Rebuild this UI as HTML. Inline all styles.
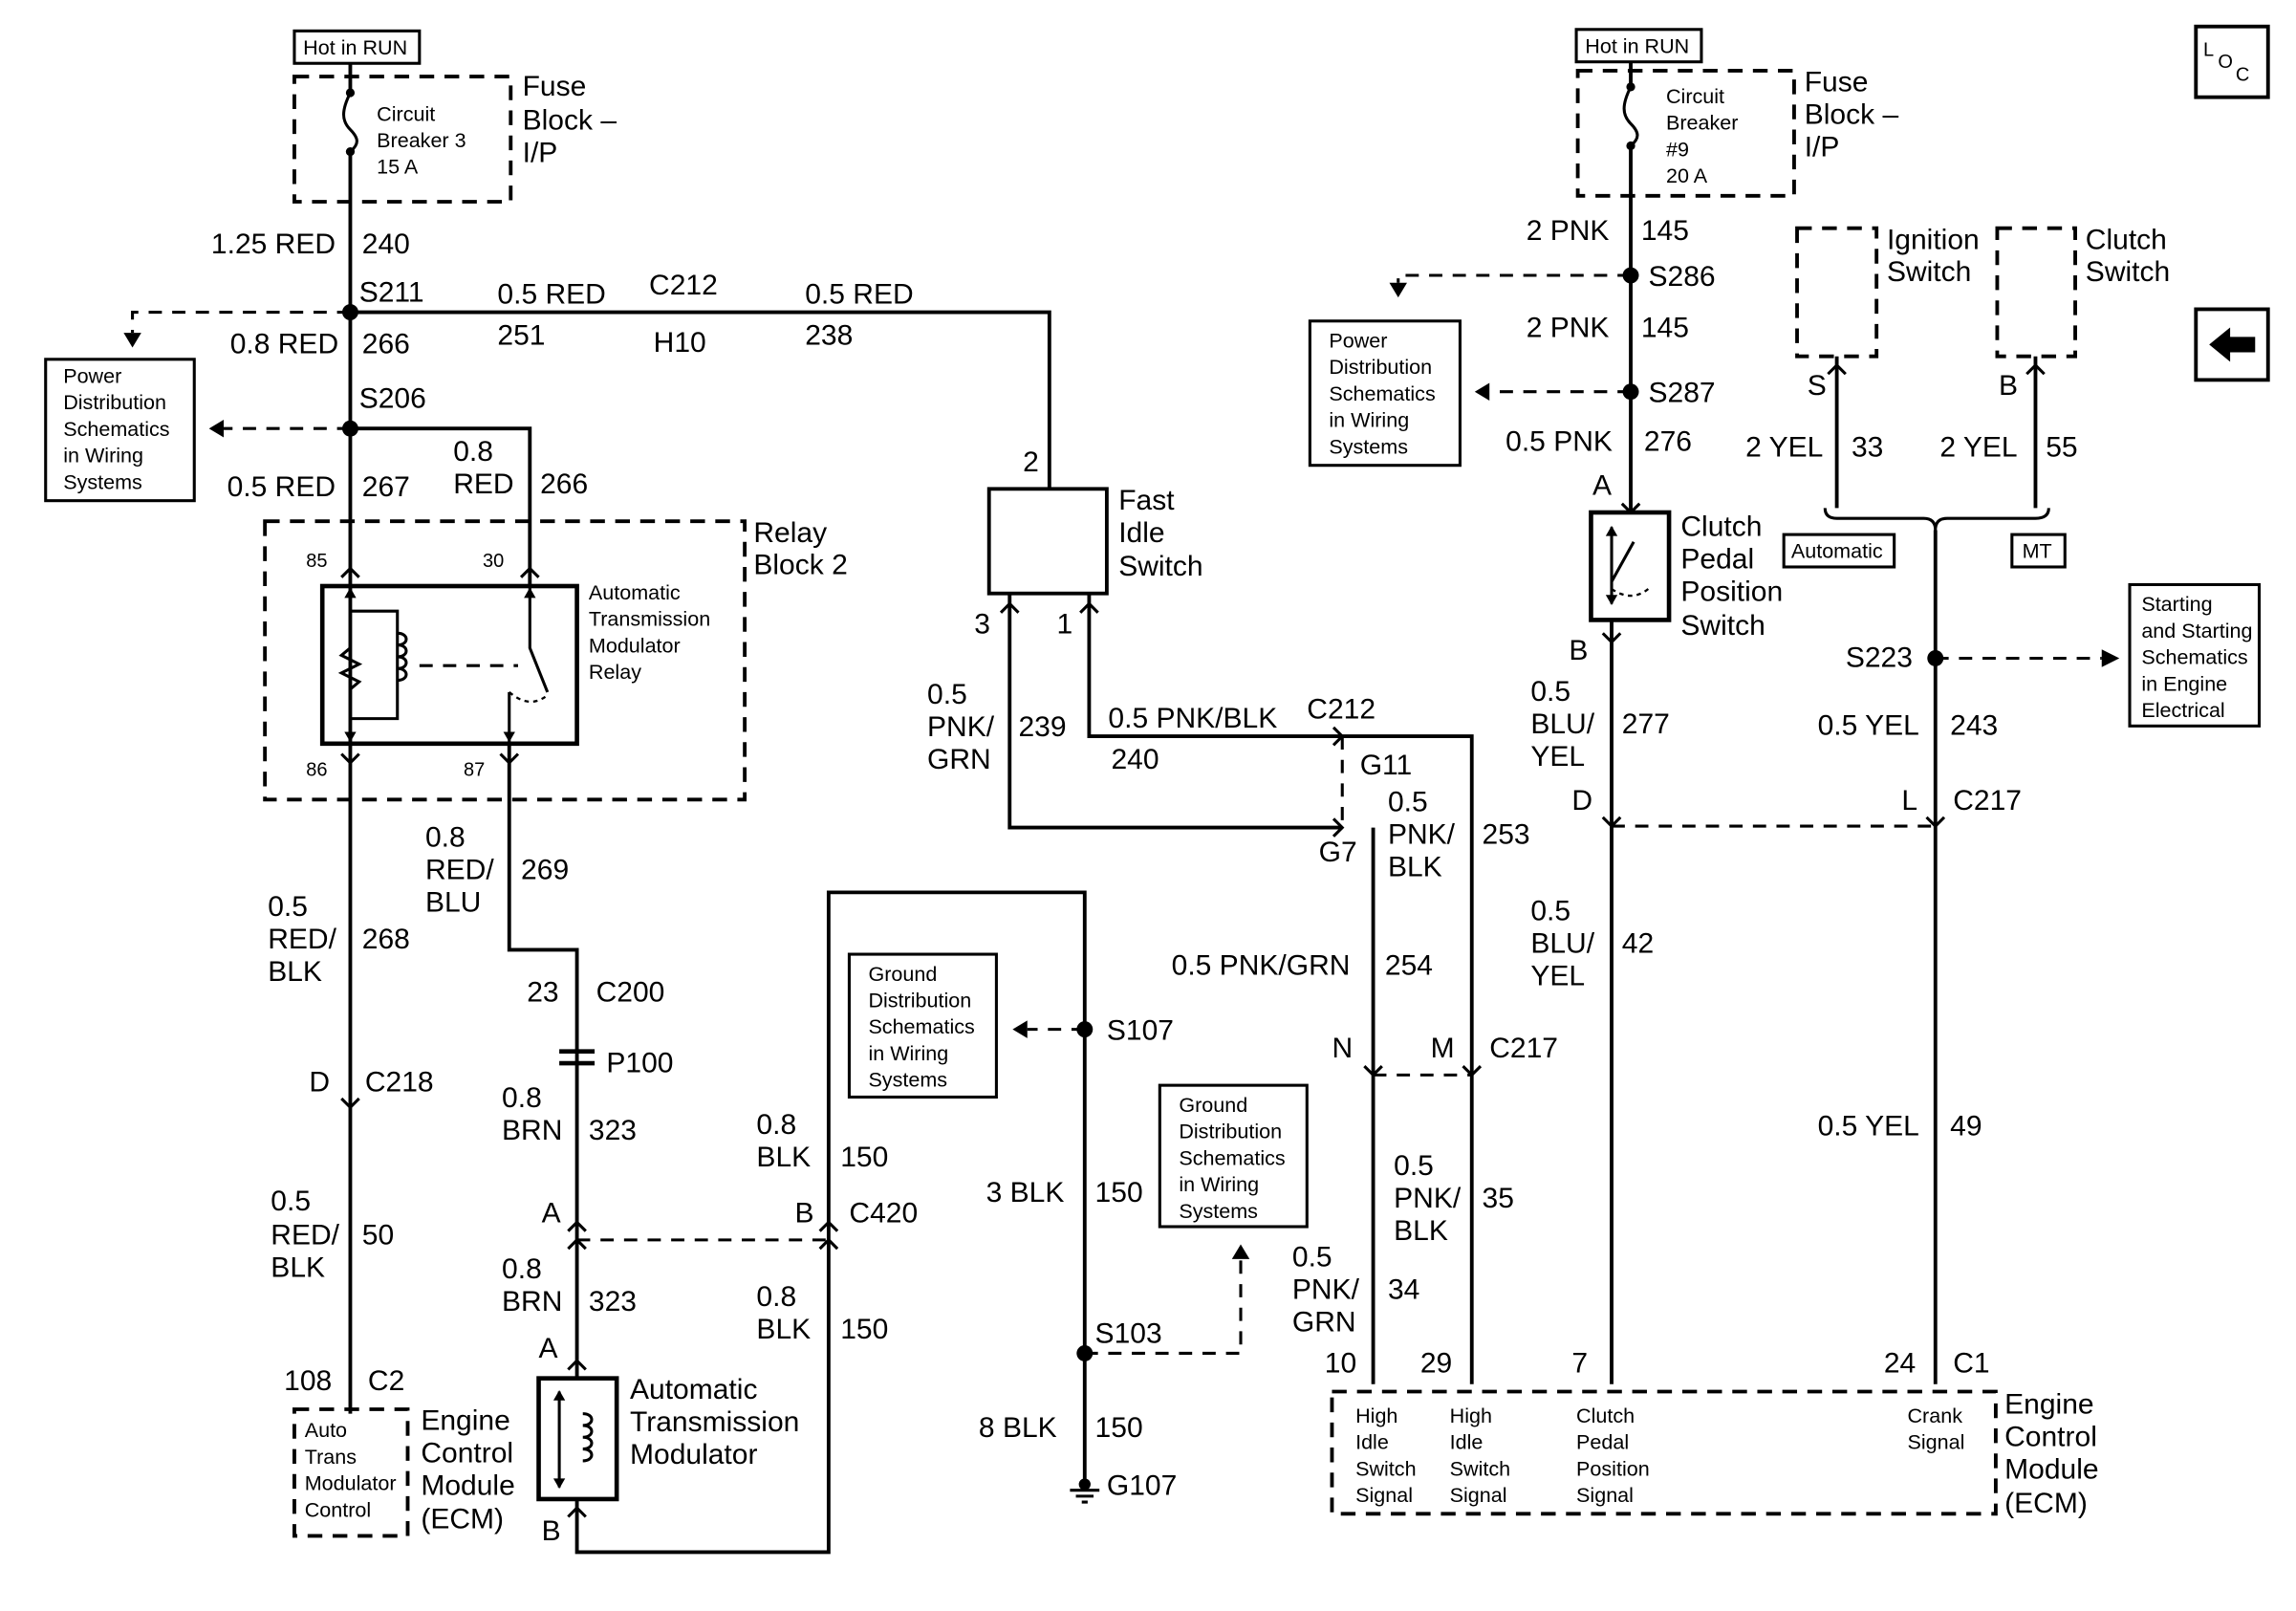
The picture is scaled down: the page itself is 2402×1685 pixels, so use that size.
<!DOCTYPE html>
<html><head><meta charset="utf-8"><style>
html,body{margin:0;padding:0;background:#fff}
svg{display:block}
text{font-family:"Liberation Sans",Arial,sans-serif;fill:#000}
.l{font-size:19.5px}
.s{font-size:14px}
.p{font-size:13px}
</style></head><body>
<svg width="2402" height="1685" viewBox="0 0 1560 1094" preserveAspectRatio="none" xmlns="http://www.w3.org/2000/svg">
<g fill="none" stroke="#000" stroke-width="2.5">
<!-- solid boxes -->
<rect x="200" y="21" width="85" height="22" stroke-width="2"/>
<rect x="1071" y="20" width="85" height="22" stroke-width="2"/>
<rect x="31" y="244" width="101" height="96" stroke-width="2"/>
<rect x="890" y="218" width="102" height="98" stroke-width="2"/>
<rect x="577" y="648" width="100" height="97" stroke-width="2"/>
<rect x="788" y="737" width="100" height="96" stroke-width="2"/>
<rect x="1447" y="397" width="88" height="96" stroke-width="2"/>
<rect x="1212" y="363" width="75" height="22" stroke-width="2"/>
<rect x="1367" y="363" width="36" height="22" stroke-width="2"/>
<rect x="1492" y="18" width="49" height="48" stroke-width="2.5"/>
<rect x="1492" y="210" width="49" height="48" stroke-width="2.5"/>
<rect x="219" y="398" width="173" height="107" stroke-width="3"/>
<rect x="672" y="332" width="80" height="71"/>
<rect x="1081" y="348" width="53" height="73" stroke-width="3"/>
<rect x="366" y="936" width="53" height="82" stroke-width="3"/>
<!-- dashed boxes -->
<g stroke-dasharray="10,7">
<rect x="200" y="52" width="147" height="85"/>
<rect x="1072" y="48" width="147" height="85"/>
<rect x="180" y="354" width="326" height="189"/>
<rect x="200" y="957" width="77" height="86"/>
<rect x="905" y="945" width="451" height="83"/>
<rect x="1221" y="155" width="54" height="87"/>
<rect x="1357" y="155" width="53" height="87"/>
</g>
<!-- wires left -->
<path d="M238 43 V63 M238 103 V960"/>
<path d="M238 212 H713 V332"/>
<path d="M238 291 H360 V398"/>
<path d="M346 505 V645 H392 V936"/>
<path d="M392 1018 V1054 H563 V606 H737 V1005"/>
<!-- circuit breakers -->
<path d="M238 63 C232 75,232 82,238 88 C244 94,244 98,238 103" stroke-width="2"/>
<path d="M1108 59 C1102 71,1102 78,1108 84 C1114 90,1114 94,1108 99" stroke-width="2"/>
<!-- middle -->
<path d="M686 403 V562 H912"/>
<path d="M740 403 V500 H1000 V940"/>
<path d="M933 562 V940"/>
<!-- right -->
<path d="M1108 42 V59 M1108 99 V348"/>
<path d="M1095 421 V940"/>
<path d="M1248 242 V345 M1383 242 V345"/>
<path d="M1240 345 Q1240 352 1248 352 H1307 Q1315 352 1315 360 Q1315 352 1323 352 H1383 Q1392 352 1392 345" stroke-width="2"/>
<path d="M1315 360 V940"/>
<!-- dashed connections -->
<g stroke-dasharray="9,7" stroke-width="2">
<path d="M238 212 H90 V226"/>
<path d="M238 291 H152"/>
<path d="M737 699 H698"/>
<path d="M737 919 H843 V855"/>
<path d="M1108 187 H950 V192"/>
<path d="M1108 266 H1012"/>
<path d="M1315 447 H1428"/>
<path d="M392 842 H563"/>
<path d="M912 500 V562"/>
<path d="M933 730 H1000"/>
<path d="M1095 561 H1315"/>
<path d="M285 452 H352"/>
</g>
<!-- chevrons -->
<g stroke-width="2">
<path d="M232 392 L238 386 L244 392 M354 392 L360 386 L366 392"/>
<path d="M232 512 L238 518 L244 512 M340 512 L346 518 L352 512"/>
<path d="M680 416 L686 410 L692 416 M734 416 L740 410 L746 416"/>
<path d="M232 746 L238 752 L244 746"/>
<path d="M386 836 L392 830 L398 836 M386 848 L392 842 L398 848"/>
<path d="M557 836 L563 830 L569 836 M557 848 L563 842 L569 848"/>
<path d="M386 930 L392 924 L398 930 M386 1030 L392 1024 L398 1030"/>
<path d="M927 724 L933 730 L939 724 M994 724 L1000 730 L1006 724"/>
<path d="M1089 555 L1095 561 L1101 555 M1309 555 L1315 561 L1321 555"/>
<path d="M1089 430 L1095 436 L1101 430 M1102 342 L1108 348 L1114 342"/>
<path d="M906 494 L912 500 L906 506 M906 556 L912 562 L906 568"/>
<path d="M1242 254 L1248 248 L1254 254 M1377 254 L1383 248 L1389 254"/>
<path d="M380 714 H404 M380 722 H404" stroke-width="3"/>
</g>
<!-- relay internals -->
<path d="M238 398 V505 M238 415 H270 V488 H238 M360 398 V440 L372 470 M346 470 V505" stroke-width="2"/>
<path d="M238 440 L232 445 L244 451 L232 457 L244 463 L238 468" stroke-width="2"/>
<path d="M270 430 c8 0 8 8 0 8 c8 0 8 8 0 8 c8 0 8 8 0 8 c8 0 8 8 0 8" stroke-width="2"/>
<path d="M346 470 Q360 482 372 472" stroke-dasharray="3,3" stroke-width="1.5"/>
<!-- modulator coil -->
<path d="M380 945 V1010 M396 960 c8 0 8 8 0 8 c8 0 8 8 0 8 c8 0 8 8 0 8 c8 0 8 8 0 8" stroke-width="2"/>
<!-- clutch switch internals -->
<path d="M1095 358 V410 M1095 395 L1110 368" stroke-width="2"/>
<path d="M1095 400 Q1110 410 1122 398" stroke-dasharray="3,3" stroke-width="1.5"/>
<!-- ground -->
<path d="M727 1012 H747 M731 1016 H743 M735 1020 H739" stroke-width="2"/>
<!-- LOC arrow -->
<path d="M1503 234 L1514 225 V230 H1531 V238 H1514 V243 Z" fill="#000"/>
</g>
<g fill="#000">
<circle cx="238" cy="212" r="5.5"/><circle cx="238" cy="291" r="5.5"/>
<circle cx="737" cy="699" r="5.5"/><circle cx="737" cy="919" r="5.5"/>
<circle cx="1108" cy="187" r="5.5"/><circle cx="1108" cy="266" r="5.5"/>
<circle cx="1315" cy="447" r="5.5"/>
<circle cx="238" cy="63" r="3"/><circle cx="238" cy="103" r="3"/>
<circle cx="1108" cy="59" r="3"/><circle cx="1108" cy="99" r="3"/>
<circle cx="737" cy="1008" r="4"/>
<path d="M84 226 H96 L90 236 Z"/><path d="M152 285 V297 L142 291 Z"/>
<path d="M698 693 V705 L688 699 Z"/><path d="M837 855 H849 L843 845 Z"/>
<path d="M944 192 H956 L950 202 Z"/><path d="M1012 260 V272 L1002 266 Z"/>
<path d="M1428 441 V453 L1440 447 Z"/>
<path d="M238 399 l-4 7 h8z M238 504 l-4 -7 h8z M360 399 l-4 7 h8z M346 504 l-4 -7 h8z M380 944 l-4 7 h8z M380 1011 l-4 -7 h8z M1095 357 l-4 7 h8z M1095 411 l-4 -7 h8z"/>
</g>
<!-- text -->
<text class="s" x="206" y="37">Hot in RUN</text>
<text class="s" x="1077" y="36">Hot in RUN</text>
<text class="l" x="355" y="65">Fuse</text><text class="l" x="355" y="88">Block –</text><text class="l" x="355" y="110">I/P</text>
<text class="s" x="256" y="82">Circuit</text><text class="s" x="256" y="100">Breaker 3</text><text class="s" x="256" y="118">15 A</text>
<text class="l" x="228" y="172" text-anchor="end">1.25 RED</text><text class="l" x="246" y="172">240</text>
<text class="l" x="244" y="205">S211</text>
<text class="l" x="230" y="240" text-anchor="end">0.8 RED</text><text class="l" x="246" y="240">266</text>
<text class="l" x="244" y="277">S206</text>
<text class="l" x="228" y="337" text-anchor="end">0.5 RED</text><text class="l" x="246" y="337">267</text>
<text class="l" x="338" y="206">0.5 RED</text><text class="l" x="338" y="234">251</text>
<text class="l" x="441" y="200">C212</text><text class="l" x="444" y="239">H10</text>
<text class="l" x="547" y="206">0.5 RED</text><text class="l" x="547" y="234">238</text>
<text class="s" x="43" y="260">Power</text><text class="s" x="43" y="278">Distribution</text><text class="s" x="43" y="296">Schematics</text><text class="s" x="43" y="314">in Wiring</text><text class="s" x="43" y="332">Systems</text>
<text class="l" x="308" y="313">0.8</text><text class="l" x="308" y="335">RED</text><text class="l" x="367" y="335">266</text>
<text class="l" x="512" y="368">Relay</text><text class="l" x="512" y="390">Block 2</text>
<text class="p" x="208" y="385">85</text><text class="p" x="328" y="385">30</text>
<text class="p" x="208" y="527">86</text><text class="p" x="315" y="527">87</text>
<text class="s" x="400" y="407">Automatic</text><text class="s" x="400" y="425">Transmission</text><text class="s" x="400" y="443">Modulator</text><text class="s" x="400" y="461">Relay</text>
<text class="l" x="289" y="575">0.8</text><text class="l" x="289" y="597">RED/</text><text class="l" x="289" y="619">BLU</text><text class="l" x="354" y="597">269</text>
<text class="l" x="182" y="622">0.5</text><text class="l" x="182" y="644">RED/</text><text class="l" x="182" y="666">BLK</text><text class="l" x="246" y="644">268</text>
<text class="l" x="210" y="741">D</text><text class="l" x="248" y="741">C218</text>
<text class="l" x="184" y="822">0.5</text><text class="l" x="184" y="845">RED/</text><text class="l" x="184" y="867">BLK</text><text class="l" x="246" y="845">50</text>
<text class="l" x="193" y="944">108</text><text class="l" x="250" y="944">C2</text>
<text class="s" x="207" y="976">Auto</text><text class="s" x="207" y="994">Trans</text><text class="s" x="207" y="1012">Modulator</text><text class="s" x="207" y="1030">Control</text>
<text class="l" x="286" y="971">Engine</text><text class="l" x="286" y="993">Control</text><text class="l" x="286" y="1015">Module</text><text class="l" x="286" y="1038">(ECM)</text>
<text class="l" x="358" y="680">23</text><text class="l" x="405" y="680">C200</text><text class="l" x="412" y="728">P100</text>
<text class="l" x="341" y="752">0.8</text><text class="l" x="341" y="774">BRN</text><text class="l" x="400" y="774">323</text>
<text class="l" x="368" y="830">A</text><text class="l" x="540" y="830">B</text><text class="l" x="577" y="830">C420</text>
<text class="l" x="341" y="868">0.8</text><text class="l" x="341" y="890">BRN</text><text class="l" x="400" y="890">323</text>
<text class="l" x="366" y="922">A</text>
<text class="l" x="514" y="770">0.8</text><text class="l" x="514" y="792">BLK</text><text class="l" x="571" y="792">150</text>
<text class="l" x="514" y="887">0.8</text><text class="l" x="514" y="909">BLK</text><text class="l" x="571" y="909">150</text>
<text class="l" x="428" y="950">Automatic</text><text class="l" x="428" y="972">Transmission</text><text class="l" x="428" y="994">Modulator</text>
<text class="l" x="368" y="1046">B</text>
<text class="l" x="752" y="706">S107</text><text class="l" x="670" y="816">3 BLK</text><text class="l" x="744" y="816">150</text>
<text class="l" x="744" y="912">S103</text><text class="l" x="665" y="976">8 BLK</text><text class="l" x="744" y="976">150</text><text class="l" x="752" y="1015">G107</text>
<text class="s" x="590" y="666">Ground</text><text class="s" x="590" y="684">Distribution</text><text class="s" x="590" y="702">Schematics</text><text class="s" x="590" y="720">in Wiring</text><text class="s" x="590" y="738">Systems</text>
<text class="s" x="801" y="755">Ground</text><text class="s" x="801" y="773">Distribution</text><text class="s" x="801" y="791">Schematics</text><text class="s" x="801" y="809">in Wiring</text><text class="s" x="801" y="827">Systems</text>
<text class="l" x="695" y="320">2</text>
<text class="l" x="760" y="346">Fast</text><text class="l" x="760" y="368">Idle</text><text class="l" x="760" y="391">Switch</text>
<text class="l" x="662" y="430">3</text><text class="l" x="718" y="430">1</text>
<text class="l" x="630" y="478">0.5</text><text class="l" x="630" y="500">PNK/</text><text class="l" x="630" y="522">GRN</text><text class="l" x="692" y="500">239</text>
<text class="l" x="753" y="494">0.5 PNK/BLK</text><text class="l" x="888" y="488">C212</text><text class="l" x="755" y="522">240</text><text class="l" x="924" y="526">G11</text>
<text class="l" x="943" y="551">0.5</text><text class="l" x="943" y="573">PNK/</text><text class="l" x="943" y="595">BLK</text><text class="l" x="1007" y="573">253</text>
<text class="l" x="896" y="585">G7</text>
<text class="l" x="796" y="662">0.5 PNK/GRN</text><text class="l" x="941" y="662">254</text>
<text class="l" x="905" y="718">N</text><text class="l" x="972" y="718">M</text><text class="l" x="1012" y="718">C217</text>
<text class="l" x="947" y="798">0.5</text><text class="l" x="947" y="820">PNK/</text><text class="l" x="947" y="842">BLK</text><text class="l" x="1007" y="820">35</text>
<text class="l" x="878" y="860">0.5</text><text class="l" x="878" y="882">PNK/</text><text class="l" x="878" y="904">GRN</text><text class="l" x="943" y="882">34</text>
<text class="l" x="900" y="932">10</text><text class="l" x="965" y="932">29</text><text class="l" x="1068" y="932">7</text><text class="l" x="1280" y="932">24</text><text class="l" x="1327" y="932">C1</text>
<text class="s" x="921" y="966">High</text><text class="s" x="921" y="984">Idle</text><text class="s" x="921" y="1002">Switch</text><text class="s" x="921" y="1020">Signal</text>
<text class="s" x="985" y="966">High</text><text class="s" x="985" y="984">Idle</text><text class="s" x="985" y="1002">Switch</text><text class="s" x="985" y="1020">Signal</text>
<text class="s" x="1071" y="966">Clutch</text><text class="s" x="1071" y="984">Pedal</text><text class="s" x="1071" y="1002">Position</text><text class="s" x="1071" y="1020">Signal</text>
<text class="s" x="1296" y="966">Crank</text><text class="s" x="1296" y="984">Signal</text>
<text class="l" x="1362" y="960">Engine</text><text class="l" x="1362" y="982">Control</text><text class="l" x="1362" y="1004">Module</text><text class="l" x="1362" y="1027">(ECM)</text>
<text class="l" x="1226" y="62">Fuse</text><text class="l" x="1226" y="84">Block –</text><text class="l" x="1226" y="106">I/P</text>
<text class="s" x="1132" y="70">Circuit</text><text class="s" x="1132" y="88">Breaker</text><text class="s" x="1132" y="106">#9</text><text class="s" x="1132" y="124">20 A</text>
<text class="l" x="1037" y="163">2 PNK</text><text class="l" x="1115" y="163">145</text><text class="l" x="1120" y="194">S286</text>
<text class="l" x="1037" y="229">2 PNK</text><text class="l" x="1115" y="229">145</text><text class="l" x="1120" y="273">S287</text>
<text class="l" x="1023" y="306">0.5 PNK</text><text class="l" x="1117" y="306">276</text><text class="l" x="1082" y="336">A</text>
<text class="s" x="903" y="236">Power</text><text class="s" x="903" y="254">Distribution</text><text class="s" x="903" y="272">Schematics</text><text class="s" x="903" y="290">in Wiring</text><text class="s" x="903" y="308">Systems</text>
<text class="l" x="1142" y="364">Clutch</text><text class="l" x="1142" y="386">Pedal</text><text class="l" x="1142" y="408">Position</text><text class="l" x="1142" y="431">Switch</text>
<text class="l" x="1066" y="448">B</text>
<text class="l" x="1040" y="476">0.5</text><text class="l" x="1040" y="498">BLU/</text><text class="l" x="1040" y="520">YEL</text><text class="l" x="1102" y="498">277</text>
<text class="l" x="1068" y="550">D</text>
<text class="l" x="1040" y="625">0.5</text><text class="l" x="1040" y="647">BLU/</text><text class="l" x="1040" y="669">YEL</text><text class="l" x="1102" y="647">42</text>
<text class="l" x="1282" y="169">Ignition</text><text class="l" x="1282" y="191">Switch</text>
<text class="l" x="1417" y="169">Clutch</text><text class="l" x="1417" y="191">Switch</text>
<text class="l" x="1228" y="268">S</text><text class="l" x="1358" y="268">B</text>
<text class="l" x="1186" y="310">2 YEL</text><text class="l" x="1258" y="310">33</text><text class="l" x="1318" y="310">2 YEL</text><text class="l" x="1390" y="310">55</text>
<text class="s" x="1217" y="379">Automatic</text><text class="s" x="1374" y="379">MT</text>
<text class="l" x="1254" y="453">S223</text>
<text class="s" x="1455" y="415">Starting</text><text class="s" x="1455" y="433">and Starting</text><text class="s" x="1455" y="451">Schematics</text><text class="s" x="1455" y="469">in Engine</text><text class="s" x="1455" y="487">Electrical</text>
<text class="l" x="1235" y="499">0.5 YEL</text><text class="l" x="1325" y="499">243</text>
<text class="l" x="1292" y="550">L</text><text class="l" x="1327" y="550">C217</text>
<text class="l" x="1235" y="771">0.5 YEL</text><text class="l" x="1325" y="771">49</text>
<text class="p" x="1497" y="38">L</text><text class="p" x="1507" y="46">O</text><text class="p" x="1519" y="55">C</text>
</svg>
</body></html>
